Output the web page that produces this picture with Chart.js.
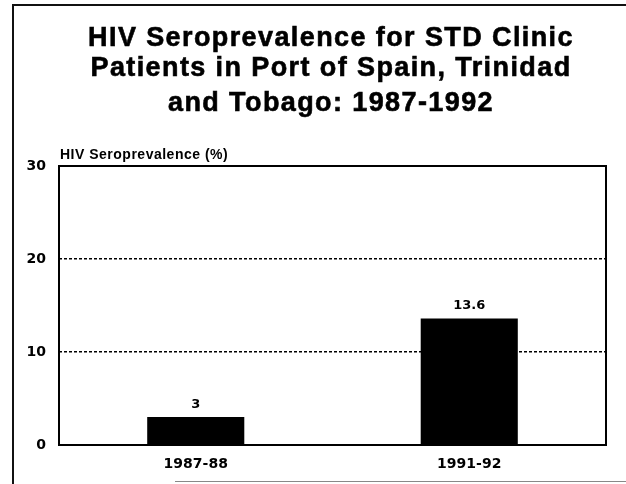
<!DOCTYPE html>
<html>
<head>
<meta charset="utf-8">
<script src="https://cdn.jsdelivr.net/npm/chart.js@4/dist/chart.umd.min.js"></script>
<style>
  html, body { margin: 0; padding: 0; background: #fff; }
  #wrap { width: 626px; height: 484px; position: relative; }
</style>
</head>
<body>
<div id="wrap"><canvas id="c" width="626" height="484"></canvas></div>
<script>
// Survey periods and HIV seroprevalence (%) among STD clinic patients
const periods = ['1987-88', '1991-92'];
const prevalence = [3, 13.6];
const yTicks = [0, 10, 20, 30];
const titleLines = [
  'HIV Seroprevalence for STD Clinic',
  'Patients in Port of Spain, Trinidad',
  'and Tobago: 1987-1992'
];
const yAxisLabel = 'HIV Seroprevalence (%)';

const SWISS = '"Liberation Sans", Arial, Helvetica, sans-serif';
const WIDE = '"DejaVu Sans", Verdana, sans-serif';

// Page frame, heading, plot box, axis caption and value labels
const decorations = {
  id: 'decorations',
  afterDraw(chart) {
    const ctx = chart.ctx;
    const a = chart.chartArea;
    ctx.save();
    // page frame
    ctx.strokeStyle = '#111';
    ctx.lineWidth = 2;
    ctx.beginPath();
    ctx.moveTo(13, 484); ctx.lineTo(13, 5); ctx.lineTo(626, 5);
    ctx.stroke();
    ctx.strokeStyle = '#888';
    ctx.lineWidth = 1;
    ctx.beginPath();
    ctx.moveTo(175, 481.5); ctx.lineTo(626, 481.5);
    ctx.stroke();

    // heading (slightly stroked for a heavier face)
    ctx.fillStyle = '#000';
    ctx.strokeStyle = '#000';
    ctx.lineWidth = 0.6;
    ctx.font = 'bold 27px ' + SWISS;
    ctx.letterSpacing = '1.4px';
    ctx.textAlign = 'center';
    ctx.textBaseline = 'alphabetic';
    const baselines = [46, 76, 111];
    titleLines.forEach((line, i) => {
      ctx.fillText(line, 331, baselines[i]);
      ctx.strokeText(line, 331, baselines[i]);
    });

    // plot box
    ctx.strokeStyle = '#000';
    ctx.lineWidth = 2;
    ctx.strokeRect(a.left, a.top, a.right - a.left, a.bottom - a.top);

    // axis caption above the plot
    ctx.font = 'bold 14px ' + SWISS;
    ctx.letterSpacing = '0.5px';
    ctx.textAlign = 'left';
    ctx.fillText(yAxisLabel, a.left + 1, a.top - 7);

    // value labels on top of bars
    ctx.font = 'bold 13px ' + WIDE;
    ctx.letterSpacing = '0px';
    ctx.textAlign = 'center';
    ctx.textBaseline = 'bottom';
    const meta = chart.getDatasetMeta(0);
    meta.data.forEach((bar, i) => {
      ctx.fillText(String(prevalence[i]), bar.x, bar.y - 6);
    });
    ctx.restore();
  }
};

new Chart(document.getElementById('c'), {
  type: 'bar',
  data: {
    labels: periods,
    datasets: [{
      data: prevalence,
      backgroundColor: '#000',
      borderWidth: 0,
      barPercentage: 0.355,
      categoryPercentage: 1
    }]
  },
  options: {
    responsive: false,
    animation: false,
    devicePixelRatio: 1,
    layout: { padding: { left: 0, right: 20, top: 166, bottom: 0 } },
    plugins: {
      legend: { display: false },
      tooltip: { enabled: false },
      title: { display: false }
    },
    scales: {
      x: {
        grid: { display: false, drawTicks: false },
        border: { display: false },
        ticks: {
          color: '#000',
          padding: 11,
          font: { family: WIDE, size: 14, weight: 'bold' }
        },
        afterFit(scale) { scale.height = 39; }
      },
      y: {
        min: 0,
        max: 30,
        afterBuildTicks(scale) { scale.ticks = yTicks.map(v => ({ value: v })); },
        grid: {
          drawTicks: false,
          color: ctx => (ctx.tick && (ctx.tick.value === 10 || ctx.tick.value === 20)) ? '#000' : 'rgba(0,0,0,0)',
          lineWidth: 1.5
        },
        border: { display: false, dash: [3, 2] },
        ticks: {
          color: '#000',
          padding: 13,
          font: { family: WIDE, size: 14, weight: 'bold' }
        },
        afterFit(scale) { scale.width = 59; }
      }
    }
  },
  plugins: [decorations]
});
</script>
</body>
</html>
